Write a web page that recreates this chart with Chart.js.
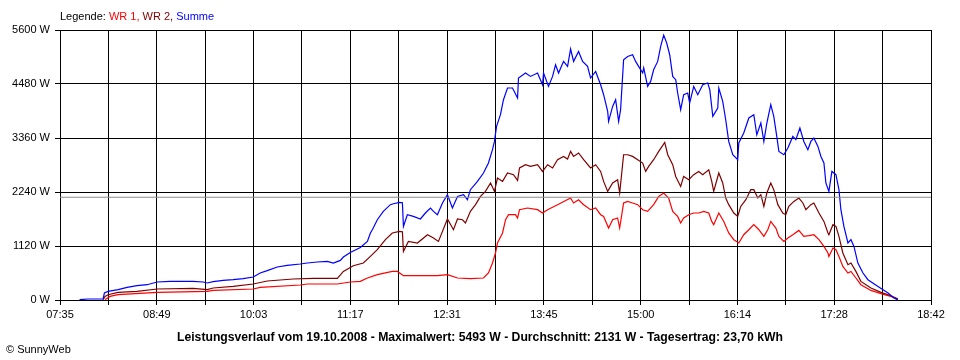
<!DOCTYPE html>
<html>
<head>
<meta charset="utf-8">
<script src="https://cdn.jsdelivr.net/npm/chart.js@4/dist/chart.umd.min.js"></script>
<style>
  html, body { margin: 0; padding: 0; background: #fff; }
  #wrap { position: relative; width: 960px; height: 360px; overflow: hidden; }
  canvas { position: absolute; left: 0; top: 0; }
  .txt { position: absolute; font-family: 'Liberation Sans', Arial, sans-serif; font-size: 11px; color: #000; white-space: nowrap; line-height: 13px; }
</style>
</head>
<body>
<div id="wrap">
  <canvas id="c" width="960" height="360"></canvas>
  <div class="txt" id="legend" style="left:60px; top:10px;">Legende: <span style="color:#ff0000">WR 1,</span> <span style="color:#800000">WR 2,</span> <span style="color:#0000ff">Summe</span></div>
  <div class="txt" id="title" style="left:0; width:960px; top:330px; text-align:center; font-weight:bold; font-size:12.2px; line-height:14px;">Leistungsverlauf vom 19.10.2008 - Maximalwert: 5493 W - Durchschnitt: 2131 W - Tagesertrag: 23,70 kWh</div>
  <div class="txt" id="copy" style="left:6px; top:343px;">© SunnyWeb</div>
</div>
<script>
// ---- tick labels ----
const xTickLabels = ['07:35','','08:49','','10:03','','11:17','','12:31','','13:45','','15:00','','16:14','','17:28','','18:42'];
const yTickValues = [0, 1120, 2240, 3360, 4480, 5600];
const averageWatt = 2131;

// ---- WR 1 (red): time in minutes since midnight, power in W ----
const wr1Minutes = [489.5,493.3,499.5,529.4,567.7,572.3,603,608.3,639,644.4,667.4,677.3,685,690.4,698,709.5,713.4,718,744,751.7,759.4,769.3,779.3,783.1,786.2,788.5,790,793.9,796.2,798.5,803.8,805.4,806.9,813,820.7,824.5,828.4,836,846,848.3,852.1,856,861.3,865.2,869,871.3,875.1,878.2,882,883.6,886.6,889.7,893.5,897.4,901.2,905,909.6,913.5,917.3,921.1,924.2,928,930.3,932.6,936.5,940.3,944.1,948,951.8,954.1,955.6,959.5,963.3,967.1,971,974.8,978.6,982.5,986.3,990.2,994,997,999.3,1003.2,1005.5,1009.3,1012.4,1016.2,1020.8,1024.6,1028.5,1032.3,1036.2,1040,1043.1,1043.8,1046.9,1049.2,1051.5,1054.5,1058.4,1060.7,1064.5,1068.3,1076,1083.7,1091.3,1096.7];
const wr1Watt = [6,75,110,158,178,199,228,261,311,332,332,373,386,456,525,593,593,504,504,525,456,442,456,560,767,975,1182,1390,1665,1769,1769,1701,1873,1908,1873,1804,1873,1977,2115,2012,2080,1977,1873,1908,1769,1734,1493,1665,1701,1493,2012,2045,2012,1977,1873,1838,1977,2149,2219,2115,1838,1734,1597,1701,1769,1804,1804,1838,1804,1630,1562,1804,1630,1390,1251,1182,1354,1458,1562,1458,1319,1458,1630,1493,1319,1215,1286,1354,1443,1319,1334,1354,1251,1112,975,904,1078,1043,904,697,560,593,456,317,199,131,75,21];

// ---- WR 2 (dark red) ----
const wr2Minutes = [488,489.5,491.8,499.5,514,529.4,557,567.7,572.3,587.6,603,613.7,633.6,649,667.4,672,679.6,687.3,692.7,698,704.2,709.5,714.9,717.2,718,721.8,728.7,736.4,741,744.8,747.9,751.7,756.3,759.4,763.2,765.5,769.3,773.2,777,780.8,784.7,787.7,790,793.9,797.7,802.3,805.4,806.9,811.5,815.3,820.7,824.5,828.4,832.2,836,840.6,843.7,846,848.3,852.1,856,861.3,865.2,869,871.3,874.4,878.2,882,883.6,886.6,889.7,893.5,897.4,901.2,903.5,905.8,909.6,913.5,918.1,920.4,924.2,926.5,930.3,932.6,936.5,940.3,944.1,947.2,951.8,954.1,955.6,959.5,962.5,964.8,967.1,971,974,976.3,980.2,984,986.3,989.4,991.7,994,996.3,999.3,1001.6,1004.7,1008.5,1010.8,1013.1,1017,1020.8,1023.9,1026.2,1030,1032.3,1036.2,1040,1043.1,1043.8,1046.9,1049.2,1051.5,1054.5,1058.4,1060.7,1064.5,1068.3,1076,1083.7,1091.3,1096.7];
const wr2Watt = [6,75,110,158,178,228,241,214,249,282,332,394,436,448,448,593,711,767,904,1043,1251,1390,1423,1417,1008,1215,1182,1354,1286,1215,1423,1680,1458,1680,1665,1597,1838,1977,2149,2252,2427,2252,2530,2460,2634,2599,2480,2738,2806,2772,2806,2667,2806,2738,2910,2978,2924,3082,2978,3049,2910,2738,2806,2667,2460,2252,2427,2495,2219,3013,3013,2978,2910,2841,2667,2772,2910,3082,3269,3013,2806,2563,2356,2563,2495,2599,2667,2599,2702,2460,2252,2634,2427,2115,1977,1804,1734,1941,2080,2288,2288,2115,2184,1941,2219,2427,2288,1977,1804,1769,1941,2045,2115,2012,1873,1977,2012,1804,1630,1390,1354,1562,1526,1319,975,732,767,593,386,249,158,89,21];

// ---- Summe (blue) ----
const sumMinutes = [470,476.5,488,489,491.8,499.5,506.4,514,521.7,529.4,539.3,557,564.6,567.7,572.3,580,587.6,595.3,603,608.3,613.7,621.4,629,639,644.4,652,659.7,664.3,669.7,672,677.3,685,690.4,692.7,694.2,698,702.6,708,710.3,714.9,717.2,718,721,725.6,731,734.8,738.7,741,744,747.9,751.7,755.5,759.4,764,767,769.3,774.7,779.3,783.1,786.2,787.7,789.3,792.3,794.6,797.7,801.5,805.4,806.1,811.5,815.3,820.7,824.5,825.3,829.1,832.2,834.5,836.8,840.6,843.7,846,848.3,852.1,855.2,859,861.3,865.2,869,871.3,874.4,875.1,878.2,880.5,882.8,884.3,886.6,889.7,893.5,895.8,898.1,901.2,902,905,907.3,909.6,912.7,915,917.3,919.6,921.9,924.2,926.5,928,930.3,932.6,935.7,937.2,940.3,943.4,947.2,951,952.6,954.9,958.7,959.5,962.5,964.8,967.1,970.2,974,974.8,978.6,982.5,986.3,988.6,991.7,994,996.3,999.3,1001.6,1003.9,1005.5,1009.3,1012.4,1016.2,1018.5,1021.6,1024.6,1027.7,1030,1032.3,1035.4,1037.7,1040,1041.5,1043.8,1046.1,1049.2,1051.5,1053,1055.3,1058.4,1060.7,1063,1066,1069.9,1073.7,1081.4,1089.1,1093.6,1096.7];
const sumWatt = [6,21,21,145,178,214,261,297,317,373,386,386,373,353,380,407,421,442,477,560,608,684,718,747,767,788,801,767,821,892,987,1090,1215,1390,1458,1665,1838,1977,1997,2024,2018,1526,1769,1734,1680,1804,1908,1838,1769,2012,2184,1908,2149,2184,2080,2288,2460,2634,2841,3117,3289,3600,3843,4154,4397,4397,4189,4604,4708,4637,4708,4465,4708,4430,4637,4880,4708,4949,4845,5206,4949,5156,4949,4845,4604,4741,4465,4258,3912,3704,4015,4154,3704,3947,4984,5052,5087,4949,4845,4708,4812,4430,4534,4776,4949,5260,5493,5330,5087,4637,4569,4293,3947,4258,4293,4086,4430,4258,4465,4500,4362,3808,3982,4397,4119,3739,3289,3013,2910,3256,3464,3775,3843,3428,3671,3289,3671,4051,3808,3393,3082,3013,3152,3393,3325,3567,3289,3117,3289,3360,3186,2978,2841,2427,2252,2667,2599,2288,1873,1526,1182,1251,1112,767,560,421,282,145,41,0];

function toMin(s) { const p = s.split(':'); return (+p[0]) * 60 + (+p[1]); }
const xMin = toMin(xTickLabels[0]);
const xMax = toMin(xTickLabels[xTickLabels.length - 1]);
const zip = (xs, ys) => xs.map((x, i) => ({ x: x, y: ys[i] }));

const lineDs = (label, xs, ys, color) => ({
  label, data: zip(xs, ys), borderColor: color, backgroundColor: color,
  borderWidth: 1.2, pointRadius: 0, tension: 0, fill: false
});

new Chart(document.getElementById('c'), {
  type: 'line',
  data: {
    datasets: [
      { label: 'Durchschnitt', data: [{ x: xMin, y: averageWatt }, { x: xMax, y: averageWatt }],
        borderColor: '#8c8c8c', borderWidth: 1, pointRadius: 0, fill: false },
      lineDs('Summe', sumMinutes, sumWatt, '#0000ff'),
      lineDs('WR 2', wr2Minutes, wr2Watt, '#800000'),
      lineDs('WR 1', wr1Minutes, wr1Watt, '#ff0000')
    ]
  },
  options: {
    responsive: false,
    animation: false,
    layout: { padding: { left: 0, right: 29, top: 30, bottom: 0 } },
    plugins: { legend: { display: false }, tooltip: { enabled: false }, title: { display: false } },
    scales: {
      x: {
        type: 'linear', min: xMin, max: xMax,
        afterBuildTicks: (scale) => {
          const n = xTickLabels.length - 1;
          scale.ticks = xTickLabels.map((_, i) => ({ value: xMin + i * (xMax - xMin) / n }));
        },
        afterFit: (scale) => { scale.height = 60; },
        grid: { color: '#000', lineWidth: 1, tickLength: 5, drawTicks: true },
        border: { color: '#000', width: 1 },
        ticks: {
          autoSkip: false, maxRotation: 0, minRotation: 0, padding: 3,
          color: '#000', font: { family: "'Liberation Sans', Arial, sans-serif", size: 11 },
          callback: (v, i) => xTickLabels[i]
        }
      },
      y: {
        min: 0, max: 5600,
        afterBuildTicks: (scale) => { scale.ticks = yTickValues.map(v => ({ value: v })); },
        afterFit: (scale) => { scale.width = 60; },
        grid: { color: '#000', lineWidth: 1, tickLength: 5, drawTicks: true },
        border: { color: '#000', width: 1 },
        ticks: {
          padding: 5, color: '#000',
          font: { family: "'Liberation Sans', Arial, sans-serif", size: 11 },
          callback: (v) => v + ' W'
        }
      }
    }
  }
});
</script>
</body>
</html>
